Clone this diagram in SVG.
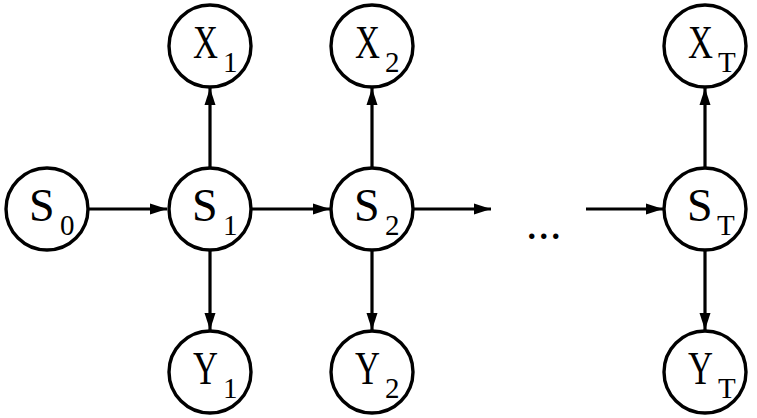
<svg xmlns="http://www.w3.org/2000/svg" width="757" height="418" viewBox="0 0 757 418">
<defs>
<style>
.n{fill:#fff;stroke:#000;stroke-width:3.4}
.t{font-size:46px;fill:#000}
.s{font-size:29px;fill:#000}
.e{fill:none;stroke:#000;stroke-width:3.2}
</style>
<marker id="a" markerUnits="userSpaceOnUse" markerWidth="18" markerHeight="12" refX="17" refY="6" orient="auto">
<path d="M0,0.5 L17,6 L0,11.5 Z" fill="#000"/>
</marker>
</defs>
<rect width="757" height="418" fill="#fff"/>
<g id="connectors">
<line class="e" x1="89" y1="209" x2="167" y2="209" marker-end="url(#a)"/>
<line class="e" x1="252" y1="209" x2="330" y2="209" marker-end="url(#a)"/>
<line class="e" x1="414" y1="209" x2="491" y2="209" marker-end="url(#a)"/>
<line class="e" x1="586" y1="209" x2="663" y2="209" marker-end="url(#a)"/>
<line class="e" x1="210" y1="167" x2="210" y2="88" marker-end="url(#a)"/>
<line class="e" x1="372" y1="167" x2="372" y2="88" marker-end="url(#a)"/>
<line class="e" x1="705" y1="167" x2="705" y2="88" marker-end="url(#a)"/>
<line class="e" x1="210" y1="251" x2="210" y2="330" marker-end="url(#a)"/>
<line class="e" x1="372" y1="251" x2="372" y2="330" marker-end="url(#a)"/>
<line class="e" x1="705" y1="251" x2="705" y2="330" marker-end="url(#a)"/>
</g>
<g font-family="'Liberation Serif', 'Times New Roman', serif">
<g id="S0"><circle class="n" cx="47" cy="209" r="41"/><text class="t" x="29" y="221">S</text><text class="s" x="60" y="235">0</text></g>
<g id="S1"><circle class="n" cx="210" cy="209" r="41"/><text class="t" x="192" y="221">S</text><text class="s" x="223" y="235">1</text></g>
<g id="S2"><circle class="n" cx="372" cy="209" r="41"/><text class="t" x="354" y="221">S</text><text class="s" x="385" y="235">2</text></g>
<g id="ST"><circle class="n" cx="705" cy="209" r="41"/><text class="t" x="687" y="221">S</text><text class="s" x="717" y="235">T</text></g>
<g id="X1"><circle class="n" cx="210" cy="46" r="41"/><text class="t" x="193" y="58" textLength="25" lengthAdjust="spacingAndGlyphs">X</text><text class="s" x="223" y="72">1</text></g>
<g id="X2"><circle class="n" cx="372" cy="46" r="41"/><text class="t" x="355" y="58" textLength="25" lengthAdjust="spacingAndGlyphs">X</text><text class="s" x="385" y="72">2</text></g>
<g id="XT"><circle class="n" cx="705" cy="46" r="41"/><text class="t" x="688" y="58" textLength="25" lengthAdjust="spacingAndGlyphs">X</text><text class="s" x="718" y="72">T</text></g>
<g id="Y1"><circle class="n" cx="210" cy="372" r="41"/><text class="t" x="193" y="384" textLength="25" lengthAdjust="spacingAndGlyphs">Y</text><text class="s" x="223" y="398">1</text></g>
<g id="Y2"><circle class="n" cx="372" cy="372" r="41"/><text class="t" x="355" y="384" textLength="25" lengthAdjust="spacingAndGlyphs">Y</text><text class="s" x="385" y="398">2</text></g>
<g id="YT"><circle class="n" cx="705" cy="372" r="41"/><text class="t" x="688" y="384" textLength="25" lengthAdjust="spacingAndGlyphs">Y</text><text class="s" x="718" y="398">T</text></g>
<g id="ellipsis"><text class="t" x="526" y="239" letter-spacing="0.5">...</text></g>
</g>
</svg>
